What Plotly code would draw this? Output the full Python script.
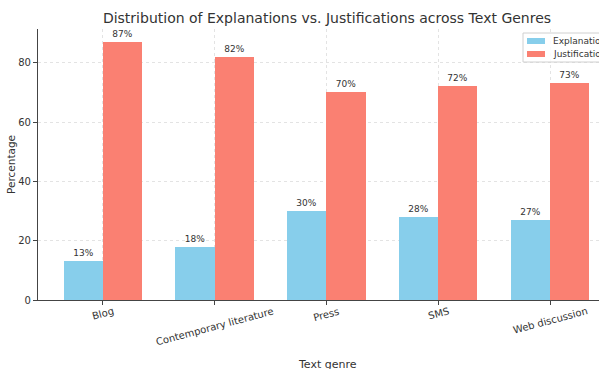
import plotly.graph_objects as go

genres = ["Blog", "Contemporary literature", "Press", "SMS", "Web discussion"]
explanation = [13, 18, 30, 28, 27]
justification = [87, 82, 70, 72, 73]
series_names = ["Explanation", "Justification"]
colors = ["#87CEEB", "#FA8072"]

W, H = 599, 369
L, R, T, B = 38, 0, 29, 69
plot_w = W - L - R
plot_h = H - T - B
FONT = "DejaVu Sans"
TXT = "#333333"


def px(xp):
    return (xp - L) / plot_w


def py(yp):
    return (H - B - yp) / plot_h


fig = go.Figure()
for name, vals, col, off in [(series_names[0], explanation, colors[0], -0.35),
                             (series_names[1], justification, colors[1], 0.0)]:
    fig.add_trace(go.Bar(
        x=list(range(len(genres))), y=vals, name=name,
        width=0.35, offset=off, marker=dict(color=col, line=dict(width=0)),
        text=[f"{v}%" for v in vals], textposition="outside",
        textfont=dict(size=9, color=TXT, family=FONT),
        cliponaxis=False, showlegend=False,
    ))

# rotated category labels
for i, g in enumerate(genres):
    fig.add_annotation(x=i, y=0, xref="x", yref="paper", text=g, showarrow=False,
                       textangle=-15, xanchor="center", yanchor="top", yshift=-3,
                       font=dict(size=10, color=TXT, family=FONT))

# axis titles
fig.add_annotation(x=px(327), xref="paper", xanchor="center",
                   y=py(364), yref="paper", yanchor="middle",
                   text="Text genre", showarrow=False,
                   font=dict(size=11, color=TXT, family=FONT))
fig.add_annotation(x=px(11), xref="paper", xanchor="center",
                   y=py(165), yref="paper", yanchor="middle", textangle=-90,
                   text="Percentage", showarrow=False,
                   font=dict(size=10.5, color=TXT, family=FONT))

# manual legend (cut at the right edge like the reference)
fig.add_shape(type="rect", xref="paper", yref="paper",
              x0=px(523), x1=px(600), y0=py(62), y1=py(33),
              line=dict(color="#d0d0d0", width=1), fillcolor="rgba(255,255,255,0.85)",
              layer="above")
swatch_y = [(38, 44), (51, 57)]
text_y = [41, 54]
for k in range(2):
    fig.add_shape(type="rect", xref="paper", yref="paper",
                  x0=px(527), x1=px(545), y0=py(swatch_y[k][1]), y1=py(swatch_y[k][0]),
                  line=dict(width=0), fillcolor=colors[k], layer="above")
    fig.add_annotation(x=px(551), xref="paper", xanchor="left",
                       y=py(text_y[k]), yref="paper", yanchor="middle",
                       text=series_names[k], showarrow=False,
                       font=dict(size=9, color=TXT, family=FONT))

fig.update_layout(
    width=W, height=H,
    margin=dict(l=L, r=R, t=T, b=B, pad=0, autoexpand=False),
    paper_bgcolor="white", plot_bgcolor="white",
    font=dict(family=FONT, color=TXT),
    title=dict(text="Distribution of Explanations vs. Justifications across Text Genres",
               x=327 / W, xanchor="center", y=1 - 18 / H, yanchor="middle",
               font=dict(size=14, color=TXT, family=FONT)),
    bargap=0,
    showlegend=False,
    xaxis=dict(range=[-0.579, 4.438], tickvals=list(range(len(genres))),
               ticktext=[""] * len(genres), showgrid=True, gridcolor="#e3e3e3",
               griddash="dot", gridwidth=1, showline=True, linecolor="#444444",
               linewidth=1.2, ticks="outside", ticklen=4, tickcolor="#444444",
               zeroline=False, fixedrange=True),
    yaxis=dict(range=[0, 91.35], tickvals=[0, 20, 40, 60, 80], showgrid=True,
               gridcolor="#e3e3e3", griddash="dot", gridwidth=1, showline=True,
               linecolor="#444444", linewidth=1.2, ticks="outside", ticklen=4,
               tickcolor="#444444", zeroline=False,
               tickfont=dict(size=10, color=TXT, family=FONT)),
)

fig.write_html("out.html")
